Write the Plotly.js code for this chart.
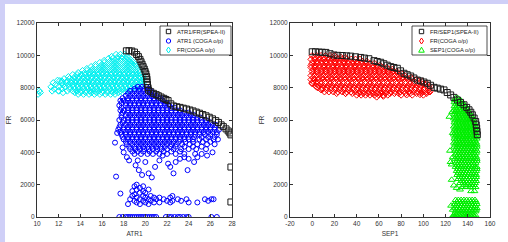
<!DOCTYPE html>
<html><head><meta charset="utf-8">
<script src="https://cdn.plot.ly/plotly-3.0.1.min.js"></script>
<style>html,body{margin:0;padding:0;background:#fff;}#chart{width:508px;height:242px;}</style>
</head><body><div id="chart"></div>
<script>
// ---------------- DATA ----------------
// Left panel: ATR1 vs FR
const leftSpeaFront = [[18.25,10280],[18.5,10280],[18.75,10270],[19.0,10200],[19.2,10050],[19.36,9920],[19.5,9750],[19.6,9600],[19.7,9450],[19.8,9300],[19.9,9150],[19.98,9000],[20.05,8850],[20.12,8680],[20.15,8520],[20.15,8370],[20.2,8200],[20.25,8000],[20.3,7850],[20.5,7750],[20.75,7650],[21.0,7570],[21.2,7500],[21.45,7420],[21.7,7340],[21.9,7270],[22.1,7200],[22.35,7000],[22.6,6870],[22.9,6820],[23.2,6780],[23.5,6730],[23.8,6680],[24.1,6620],[24.4,6560],[24.7,6490],[25.0,6420],[25.3,6340],[25.6,6260],[25.9,6170],[26.2,6070],[26.5,5960],[26.75,5850],[27.0,5700],[27.2,5590],[27.45,5450],[27.65,5320],[27.8,5200],[27.9,5080],[27.9,3090],[27.9,930]];

// rows: [FR, ATR1 values...]
const leftCogaFrRows = [
 [10050,17.3,17.7,18.1],
 [9925,16.9,17.5,17.9,18.3],
 [9800,16.6,17.0,17.4,17.8,18.2,18.5],
 [9675,16.2,16.8,17.2,17.6,18.0,18.4,18.7],
 [9550,15.8,16.2,16.6,17.0,17.4,17.8,18.2,18.6,18.9],
 [9425,15.4,16.0,16.4,16.8,17.2,17.6,18.0,18.4,18.8,19.1],
 [9300,15.0,15.4,15.8,16.2,16.6,17.0,17.4,17.8,18.2,18.6,19.0,19.2],
 [9175,14.6,15.2,15.6,16.0,16.4,16.8,17.2,17.6,18.0,18.4,18.8,19.2],
 [9050,14.2,14.6,15.0,15.4,15.8,16.2,16.6,17.0,17.4,17.8,18.2,18.6,19.0,19.4],
 [8925,13.8,14.4,14.8,15.2,15.6,16.0,16.4,16.8,17.2,17.6,18.0,18.4,18.8,19.2,19.5],
 [8800,13.3,13.7,14.1,14.5,14.9,15.3,15.7,16.1,16.5,16.9,17.3,17.7,18.1,18.5,18.9,19.3,19.6],
 [8675,12.9,13.5,13.9,14.3,14.7,15.1,15.5,15.9,16.3,16.7,17.1,17.5,17.9,18.3,18.7,19.1,19.5,19.8],
 [8550,12.5,13.0,13.4,13.8,14.2,14.6,15.0,15.4,15.8,16.2,16.6,17.0,17.4,17.8,18.2,18.6,19.0,19.4,19.8],
 [8425,12.1,12.8,13.2,13.6,14.0,14.4,14.8,15.2,15.6,16.0,16.4,16.8,17.2,17.6,18.0,18.4,18.8,19.2,19.6],
 [8300,11.5,12.3,12.7,13.1,13.5,13.9,14.3,14.7,15.1,15.5,15.9,16.3,16.7,17.1,17.5,17.9,18.3,18.7,19.1,19.5,19.8],
 [8175,11.7,12.4,12.9,13.3,13.7,14.1,14.5,14.9,15.3,15.7,16.1,16.5,16.9,17.3,17.7,18.1,18.5,18.9,19.3,19.7],
 [8050,11.3,12.0,12.6,13.0,13.4,13.8,14.2,14.6,15.0,15.4,15.8,16.2,16.6,17.0,17.4,17.8,18.2,18.6,19.0,19.4],
 [7925,11.6,12.3,13.0,13.5,13.9,14.3,14.7,15.1,15.5,15.9,16.3,16.7,17.1,17.5,17.9,18.3,18.7,19.1],
 [7800,10.2,11.4,12.0,12.8,13.3,13.7,14.1,14.5,14.9,15.3,15.7,16.1,16.5,16.9,17.3,17.7,18.1,18.5],
 [7700,12.4,13.5,14.0,14.5,15.0,15.5,16.0,16.5,17.0,17.5,17.9],
 [7600,10.1,13.8,14.3,14.8,15.3,15.8,16.3,16.8,17.2]
];
const leftCogaFrExtra = [[10.3,7700],[11.9,8450],[12.0,7800],[12.3,8400]];

const leftCogaAtrRows = [
 [8050,19.3,19.7,20.1],
 [7925,19.0,19.5,19.9,20.3],
 [7800,18.6,19.0,19.4,19.8,20.2,20.5],
 [7650,18.4,18.8,19.2,19.6,20.0,20.4,20.7],
 [7500,18.2,18.6,19.0,19.4,19.8,20.2,20.6,21.0],
 [7350,17.9,18.4,18.8,19.2,19.6,20.0,20.4,20.8,21.2,21.4],
 [7200,17.7,18.0,18.4,18.8,19.2,19.6,20.0,20.4,20.8,21.2,21.6],
 [7050,17.8,18.2,18.6,19.0,19.4,19.8,20.2,20.6,21.0,21.4,21.8,22.0],
 [6900,17.6,18.2,18.6,19.0,19.4,19.8,20.2,20.6,21.0,21.4,21.8,22.2],
 [6750,17.8,18.4,18.8,19.2,19.6,20.0,20.4,20.8,21.2,21.6,22.0,22.4,22.7],
 [6600,17.7,18.0,18.4,18.8,19.2,19.6,20.0,20.4,20.8,21.2,21.6,22.0,22.4,22.8,23.2],
 [6450,17.9,18.4,18.8,19.2,19.6,20.0,20.4,20.8,21.2,21.6,22.0,22.4,22.8,23.2,23.6,24.0],
 [6300,17.8,18.2,18.6,19.0,19.4,19.8,20.2,20.6,21.0,21.4,21.8,22.2,22.6,23.0,23.4,23.8,24.2,24.5],
 [6150,17.8,18.4,18.8,19.2,19.6,20.0,20.4,20.8,21.2,21.6,22.0,22.4,22.8,23.2,23.6,24.0,24.4,24.8,25.1],
 [6000,17.6,18.0,18.4,18.8,19.2,19.6,20.0,20.4,20.8,21.2,21.6,22.0,22.4,22.8,23.2,23.6,24.0,24.4,24.8,25.2,25.6],
 [5850,17.9,18.4,18.8,19.2,19.6,20.0,20.4,20.8,21.2,21.6,22.0,22.4,22.8,23.2,23.6,24.0,24.4,24.8,25.2,25.6,26.0],
 [5700,17.7,18.2,18.6,19.0,19.4,19.8,20.2,20.6,21.0,21.4,21.8,22.2,22.6,23.0,23.4,23.8,24.2,24.6,25.0,25.4,25.8,26.2,26.5],
 [5550,17.6,18.0,18.4,18.8,19.2,19.6,20.0,20.4,20.8,21.2,21.6,22.0,22.4,22.8,23.2,23.6,24.0,24.4,24.8,25.2,25.6,26.0,26.4],
 [5400,17.5,18.0,18.4,18.8,19.2,19.6,20.0,20.4,20.8,21.2,21.6,22.0,22.4,22.8,23.2,23.6,24.0,24.4,24.8,25.2,25.6,26.0,26.4,26.8],
 [5250,17.7,18.2,18.6,19.0,19.4,19.8,20.2,20.6,21.0,21.4,21.8,22.2,22.6,23.0,23.4,23.8,24.2,24.6,25.0,25.4,25.8,26.2,26.6],
 [5100,17.8,18.2,18.6,19.0,19.4,19.8,20.2,20.6,21.0,21.4,21.8,22.2,22.6,23.0,23.4,23.8,24.2,24.6,25.0,25.5,26.0,26.6],
 [4950,17.9,18.4,18.8,19.2,19.6,20.0,20.4,20.8,21.2,21.6,22.0,22.4,22.8,23.2,23.6,24.0,24.5,25.2,25.8,26.4],
 [4800,18.0,18.4,18.8,19.2,19.6,20.0,20.4,20.8,21.2,21.6,22.0,22.4,22.8,23.2,23.6,24.0,24.4,25.0,25.6,26.3,26.7],
 [4650,18.2,18.6,19.0,19.4,19.8,20.2,20.6,21.0,21.4,21.8,22.2,22.6,23.1,23.7,24.4,25.3,26.0],
 [4500,18.3,18.8,19.2,19.6,20.0,20.4,20.8,21.2,21.6,22.0,22.4,22.9,23.4,24.1,24.8,25.7,26.4],
 [4350,18.5,19.0,19.4,19.8,20.2,20.6,21.0,21.4,21.8,22.3,22.8,23.6,24.4,25.2],
 [4200,18.6,19.1,19.5,19.9,20.3,20.7,21.1,21.5,22.0,22.6,23.3,24.0,24.7,25.6],
 [4050,18.8,19.3,19.8,20.4,21.0,21.7,22.4,23.2],
 [3900,19.0,19.6,20.2,20.7,21.3,22.0,22.8,23.6,24.6,25.2],
 [0,17.6,17.9,18.2,18.4,18.6,18.8,19.0,19.2,19.4,19.6,19.8,20.0,20.2,20.4,20.6,20.8,21.0,21.9,22.2,22.4,22.7,23.0,23.2,23.5,23.8,24.0,26.1,26.6]
];
const leftCogaAtrExtra = [[17.2,4600],[17.3,2500],[17.4,5200],[18.3,3700],[18.5,3500],[19.1,3200],[19.4,2900],[19.7,2600],[19.3,3500],[20.0,3400],[20.3,2700],[20.6,2450],[20.9,3100],[21.3,3500],[21.6,3800],[22.1,3300],[22.3,3100],[22.6,2700],[22.8,3400],[23.2,3600],[23.6,3700],[23.9,2900],[24.0,3600],[24.5,3400],[24.8,3700],[25.7,3800],[26.2,4000],[18.0,4000],[17.9,4300],
 [17.7,1450],[18.4,800],[18.6,1100],[18.8,1600],[18.8,1300],[19.0,1900],[19.0,1400],[19.0,1000],[19.2,2000],[19.2,1700],[19.2,1200],[19.2,900],[19.5,1800],[19.5,1500],[19.5,1100],[19.5,800],[19.8,1900],[19.8,1600],[19.8,1300],[19.8,1000],[20.0,1500],[20.0,1200],[20.0,900],[20.3,1700],[20.3,1100],[20.3,800],[20.5,1300],[20.5,1000],[20.8,1200],[20.8,900],[21.0,1100],[21.3,1200],[21.3,900],[21.7,1100],[22.0,1000],[22.3,1200],[22.3,900],[22.5,1300],[22.5,1000],[23.0,1100],[23.3,1000],[23.8,1100],[24.0,900],[24.8,900],[25.5,1100],[25.8,1000],[26.1,1100],[26.3,1100]];

// Right panel: SEP1 vs FR
const rightSpeaFront = [[0,10220],[3,10220],[6.3,10200],[9,10190],[12.3,10180],[16,10100],[19.6,10020],[23,10000],[27,9990],[31,9970],[34.6,9950],[39,9910],[43.6,9870],[47,9830],[51,9790],[55.6,9670],[58.5,9620],[61.6,9570],[64.5,9480],[67.5,9390],[70.6,9300],[73.5,9250],[76.6,9200],[79.5,9040],[82.6,8890],[85.5,8800],[88.6,8720],[91.5,8600],[94.6,8470],[97.5,8420],[100.5,8350],[103.6,8270],[106.5,8150],[109.6,8020],[112.5,7970],[115.5,7910],[118.6,7860],[121.5,7700],[124.6,7550],[127.5,7400],[130.6,7240],[133.5,7090],[136.6,6940],[139,6780],[141.1,6630],[142.7,6480],[144.1,6320],[145.7,6120],[147.1,5910],[147.6,5700],[148,5500],[148.3,5300],[148.6,5090]];

const rightCogaFrRows = [
 [9980,0,4,8,12,16,20],
 [9865,2,6,10,14,18,22,26,30],
 [9750,-1,3,7,11,15,19,23,27,31,35,39,43],
 [9625,1,5,9,13,17,21,25,29,33,37,41,45,49],
 [9500,0,4,8,12,16,20,24,28,32,36,40,44,48,52,56],
 [9375,-1,2,6,10,14,18,22,26,30,34,38,42,46,50,54,58,61],
 [9250,-1,3,7,11,15,19,23,27,31,35,39,43,47,51,55,59,63,67],
 [9125,1,5,9,13,17,21,25,29,33,37,41,45,49,53,57,61,65,69,72],
 [9000,0,4,8,12,16,20,24,28,32,36,40,44,48,52,56,60,64,68,72,76],
 [8875,1,5,9,13,17,21,25,29,33,37,41,45,49,53,57,61,65,69,73,77,80],
 [8750,-1,3,7,11,15,19,23,27,31,35,39,43,47,51,55,59,63,67,71,75,79,83],
 [8625,1,5,9,13,17,21,25,29,33,37,41,45,49,53,57,61,65,69,73,77,81,85,89],
 [8500,-1,2,6,10,14,18,22,26,30,34,38,42,46,50,54,58,62,66,70,74,78,82,86,90,94],
 [8375,1,4,8,12,16,20,24,28,32,36,40,44,48,52,56,60,64,68,72,76,80,84,88,92,96,99],
 [8250,0,4,8,12,16,20,24,28,32,36,40,44,48,52,56,60,64,68,72,76,80,84,88,92,96,100,103],
 [8125,3,6,10,14,18,22,26,30,34,38,42,46,50,54,58,62,66,70,74,78,82,86,90,94,98,102,105],
 [8000,5,9,13,17,21,25,29,33,37,41,45,49,53,57,61,65,69,73,77,81,85,89,93,97,101,105],
 [7875,8,13,17,21,25,29,33,37,41,45,49,53,57,61,65,69,73,77,81,85,89,93,97,101,105],
 [7750,11,15,19,23,27,31,35,39,43,47,51,55,59,63,67,71,75,79,83,87,91,95,99,103,106],
 [7650,22,30,36,42,46,50,54,58,62,66,70,74,78,84,88,94,98,103],
 [7550,40,44,48,52,56,60,64,68,80,90,100]
];
const rightCogaFrExtra = [[0,8300],[4,8050],[9,7900],[30,7650],[58,7430],[64,7480],[85,7560],[97,7580],[105,7750]];

const rightCogaSepRows = [
 [7350,129,131],
 [7225,128.5,131,133.5],
 [7100,128,130.5,133,135],
 [6975,129,131.5,134,136.5],
 [6850,128,130.5,133,135.5,138],
 [6725,129,131.5,134,136.5,139],
 [6600,127.5,130,132.5,135,137.5,140],
 [6475,128.5,131,133.5,136,138.5,141],
 [6350,128,130.5,133,135.5,138,140.5,142.5],
 [6225,129,131.5,134,136.5,139,141.5,143.5],
 [6100,127.5,130,132.5,135,137.5,140,142.5,144.5],
 [5975,128.5,131,133.5,136,138.5,141,143.5,145.5],
 [5850,128,130.5,133,135.5,138,140.5,143,145.5],
 [5725,129,131.5,134,136.5,139,141.5,144,146],
 [5600,127.5,130,132.5,135,137.5,140,142.5,145,147],
 [5475,128.5,131,133.5,136,138.5,141,143.5,146,147.5],
 [5350,128,130.5,133,135.5,138,140.5,143,145.5,147.5],
 [5225,129,131.5,134,136.5,139,141.5,144,146.5],
 [5100,127.5,130,132.5,135,137.5,140,142.5,145,147.5],
 [4975,128.5,131,133.5,136,138.5,141,143.5,146,148],
 [4850,128,130.5,133,135.5,138,140.5,143,145.5,148],
 [4725,129,131.5,134,136.5,139,141.5,144,146.5],
 [4600,127.5,130,132.5,135,137.5,140,142.5,145,147.5],
 [4475,128.5,131,133.5,136,138.5,141,143.5,146,148],
 [4350,128,130.5,133,135.5,138,140.5,143,145.5,148],
 [4225,129.5,132,134.5,137,139.5,142,144.5,147],
 [4100,128.5,131,133.5,136,138.5,141,143.5,146,148],
 [3975,130,132.5,135,137.5,140,142.5,145,147.5],
 [3850,129,131.5,134,136.5,139,141.5,144,146.5],
 [3725,130,132.5,135,137.5,140,142.5,145,147.5],
 [3600,128.5,131,133.5,136,138.5,141,143.5,146,148],
 [3475,130.5,133,135.5,138,140.5,143,145.5,148],
 [3350,129.5,132,134.5,137,139.5,142,144.5,147],
 [3225,130.5,133,135.5,138,140.5,143,145.5],
 [3100,129,131.5,134,136.5,139,141.5,144,146.5,148],
 [2975,131,133.5,136,138.5,141,143.5,146,148],
 [2850,130,132.5,135,137.5,140,142.5,145,147.5],
 [2725,131.5,134,136.5,139,141.5,144,146.5],
 [2600,130.5,133,135.5,138,140.5,143,145.5,147.5],
 [2475,132.5,135,137.5,140,142.5,145,147.5],
 [2350,131.5,134,136.5,139,141.5,144,146.5],
 [2225,134.5,137.5,140,142.5,145,147.5],
 [2100,133,136,139,141.5,144,146.5],
 [1975,137,140,143,145.5],
 [1850,135,138.5,142,144.5,147],
 [1600,143,146],
 [1050,129,131.5,134,136.5,139,141.5,144,146.5],
 [925,130,132.5,135,137.5,140,142.5,145,147.5],
 [800,128,130.5,133,135.5,138,140.5,143,145.5,148],
 [675,129.5,132,134.5,137,139.5,142,144.5,147],
 [550,128.5,131,133.5,136,138.5,141,143.5,146,148],
 [450,130,132.5,135,137.5,140,142.5,145,147.5],
 [350,129,131.5,134,136.5,139,141.5,144,147],
 [100,127,129.5,132,134.5,137,139.5,142,144.5,147],
 [50,128,130.5,133,135.5,138,140.5,143,145.5],
 [0,126.5,129,131.5,134,136.5,139,141.5,144,146.5]
];
const rightCogaSepExtra = [[123.5,6200],[124,4100],[124.5,3400],[125.5,3250],[126.5,3700],[125.5,2300],[127.5,1950],[130,1800],[133,1700],[126.5,5200],[126,6500],[125,700],[126.5,450]];

const leftLegendLabels = ['ATR1/FR(SPEA-II)', 'ATR1 (COGA o/p)', 'FR(COGA o/p)'];
const rightLegendLabels = ['FR/SEP1(SPEA-II)', 'FR(COGA o/p)', 'SEP1(COGA o/p)'];
const leftXTicks = [10,12,14,16,18,20,22,24,26,28];
const leftXTickText = ['10','12','14','16','18','20','22','24','26','28'];
const rightXTicks = [-20,0,20,40,60,80,100,120,140,160];
const rightXTickText = ['-20','0','20','40','60','80','100','120','140','160'];
const yTicks = [0,2000,4000,6000,8000,10000,12000];
const yTickText = ['0','2000','4000','6000','8000','10000','12000'];

// ---------------- helpers ----------------
function pairs(p){return {x:p.map(a=>a[0]), y:p.map(a=>a[1])};}
function rows(r, extra){const x=[],y=[];r.forEach(row=>{for(let i=1;i<row.length;i++){x.push(row[i]);y.push(row[0]);}});(extra||[]).forEach(a=>{x.push(a[0]);y.push(a[1]);});return {x,y};}
const W=508,H=242;
const px=v=>v/W, py=v=>1-v/H;

function mk(d, xa, ya, sym, color, size, name){
  return {type:'scatter', mode:'markers', x:d.x, y:d.y, xaxis:xa, yaxis:ya, name:name, showlegend:false,
    marker:{symbol:sym, size:size, color:color, line:{color:color, width:1}}, hoverinfo:'skip'};
}
const COL={blk:'#1a1a1a', blue:'#0000ff', cyan:'#00f0f0', red:'#ff0000', green:'#00ee00'};

const traces = [
  mk(rows(leftCogaFrRows, leftCogaFrExtra),'x','y','diamond-open',COL.cyan,5,leftLegendLabels[2]),
  mk(rows(leftCogaAtrRows, leftCogaAtrExtra),'x','y','circle-open',COL.blue,5,leftLegendLabels[1]),
  mk(pairs(leftSpeaFront),'x','y','square-open',COL.blk,6,leftLegendLabels[0]),
  mk(rows(rightCogaSepRows, rightCogaSepExtra),'x2','y2','triangle-up-open',COL.green,6,rightLegendLabels[2]),
  mk(rows(rightCogaFrRows, rightCogaFrExtra),'x2','y2','diamond-open',COL.red,5,rightLegendLabels[1]),
  mk(pairs(rightSpeaFront),'x2','y2','square-open',COL.blk,6,rightLegendLabels[0])
];

const axFont={family:'Liberation Sans, Arial, sans-serif', size:6.5, color:'#333'};
function xax(dom, rng, tv, tt, title, anchor){
  return {domain:dom, range:rng, tickvals:tv, ticktext:tt, ticks:'inside', ticklen:3, tickcolor:'#333',
    showline:true, linecolor:'#333', linewidth:1, mirror:'ticks', showgrid:false, zeroline:false,
    tickfont:axFont, anchor:anchor, title:{text:title, font:axFont, standoff:5}};
}
function yax(anchor){
  return {domain:[25/H, 219/H], range:[0,12000], tickvals:yTicks, ticktext:yTickText, ticks:'inside', ticklen:3, tickcolor:'#333',
    showline:true, linecolor:'#333', linewidth:1, mirror:'ticks', showgrid:false, zeroline:false,
    tickfont:axFont, anchor:anchor, title:{text:'FR', font:axFont, standoff:4}};
}

// custom legends (MATLAB style compact boxes)
const shapes=[
  {type:'rect', xref:'paper', yref:'paper', x0:0, x1:px(5), y0:0, y1:1, fillcolor:'#cfcff7', line:{width:0}, layer:'below'},
  {type:'rect', xref:'paper', yref:'paper', x0:0, x1:1, y0:py(4), y1:1, fillcolor:'#cfcff7', line:{width:0}, layer:'below'}
];
const annotations=[];
function legend(x0, x1, y0, y1, symX, txtX, labels, syms){
  shapes.push({type:'rect', xref:'paper', yref:'paper', x0:px(x0), x1:px(x1), y0:py(y1), y1:py(y0), fillcolor:'#fff', line:{color:'#222', width:0.8}});
  const rowsY=[31.5,41,50];
  labels.forEach((lab,i)=>{
    const cy=rowsY[i], s=syms[i], r=2.2;
    if(s.t==='sq') shapes.push({type:'rect', xref:'paper', yref:'paper', x0:px(symX-r), x1:px(symX+r), y0:py(cy+r), y1:py(cy-r), line:{color:s.c,width:1}});
    if(s.t==='ci') shapes.push({type:'circle', xref:'paper', yref:'paper', x0:px(symX-r), x1:px(symX+r), y0:py(cy+r), y1:py(cy-r), line:{color:s.c,width:1}});
    if(s.t==='di') shapes.push({type:'path', xref:'paper', yref:'paper', path:`M${px(symX)},${py(cy-3)} L${px(symX+2)},${py(cy)} L${px(symX)},${py(cy+3)} L${px(symX-2)},${py(cy)} Z`, line:{color:s.c,width:1}});
    if(s.t==='tr') shapes.push({type:'path', xref:'paper', yref:'paper', path:`M${px(symX)},${py(cy-2.8)} L${px(symX+2.8)},${py(cy+2.2)} L${px(symX-2.8)},${py(cy+2.2)} Z`, line:{color:s.c,width:1}});
    annotations.push({xref:'paper', yref:'paper', x:px(txtX), y:py(cy), xanchor:'left', yanchor:'middle', showarrow:false, text:lab, font:{family:'Liberation Sans, Arial, sans-serif', size:5.8, color:'#222'}});
  });
}
legend(160, 231, 26, 55, 168.5, 174.5, leftLegendLabels, [{t:'sq',c:COL.blk},{t:'ci',c:COL.blue},{t:'di',c:COL.cyan}]);
legend(412, 487, 26, 55, 421.5, 427.5, rightLegendLabels, [{t:'sq',c:COL.blk},{t:'di',c:COL.red},{t:'tr',c:COL.green}]);

const layout={
  width:W, height:H, margin:{l:0,r:0,t:0,b:0}, paper_bgcolor:'#fff', plot_bgcolor:'#fff', showlegend:false,
  xaxis:xax([37/W,232/W],[10,28],leftXTicks,leftXTickText,'ATR1','y'),
  yaxis:yax('x'),
  xaxis2:xax([290/W,490/W],[-20,160],rightXTicks,rightXTickText,'SEP1','y2'),
  yaxis2:yax('x2'),
  shapes:shapes, annotations:annotations
};
Plotly.newPlot('chart', traces, layout, {staticPlot:true, displayModeBar:false});
</script></body></html>
